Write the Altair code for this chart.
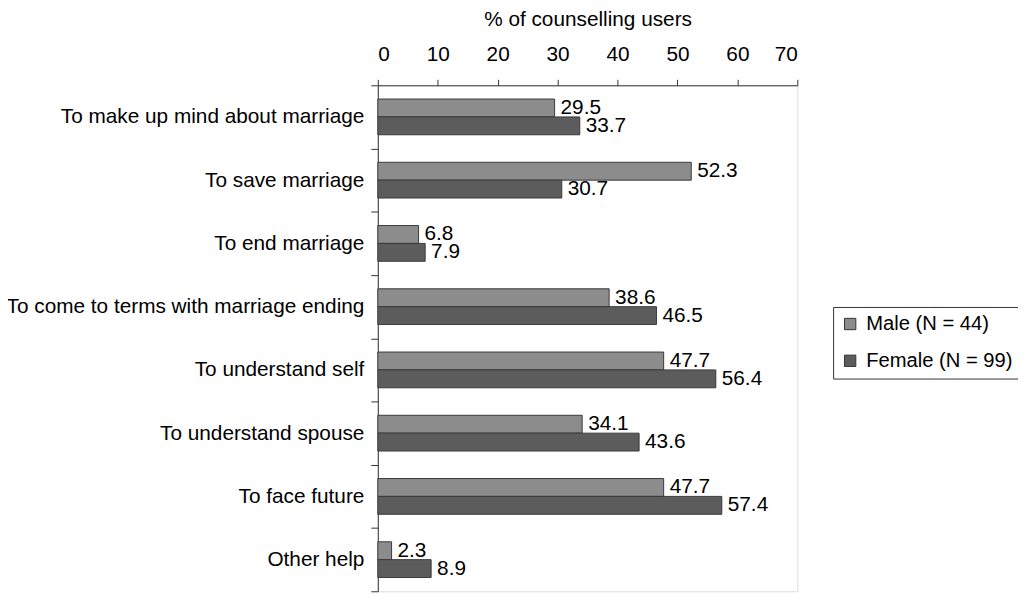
import altair as alt
import pandas as pd

categories = [
    "To make up mind about marriage",
    "To save marriage",
    "To end marriage",
    "To come to terms with marriage ending",
    "To understand self",
    "To understand spouse",
    "To face future",
    "Other help",
]
male = [29.5, 52.3, 6.8, 38.6, 47.7, 34.1, 47.7, 2.3]
female = [33.7, 30.7, 7.9, 46.5, 56.4, 43.6, 57.4, 8.9]
series = ["Male (N = 44)", "Female (N = 99)"]
colors = ["#8c8c8c", "#5c5c5c"]
x_ticks = [0, 10, 20, 30, 40, 50, 60, 70]

rows = []
for c, m, f in zip(categories, male, female):
    rows.append({"cat": c, "series": series[0], "value": m})
    rows.append({"cat": c, "series": series[1], "value": f})
df = pd.DataFrame(rows)

FONT = "Liberation Sans"
FS = 20.9

y = alt.Y(
    "cat:N",
    sort=categories,
    scale=alt.Scale(paddingInner=0, paddingOuter=0),
    axis=alt.Axis(
        title=None, tickBand="extent", tickSize=7, labelPadding=7,
        labelFontSize=FS, labelFont=FONT, labelColor="black",
        domainColor="#333333", tickColor="#333333", labelLimit=0,
    ),
)
yoff = alt.YOffset(
    "series:N", sort=series,
    scale=alt.Scale(paddingOuter=0.77, paddingInner=0),
)
x = alt.X(
    "value:Q",
    scale=alt.Scale(domain=[0, 70]),
    axis=alt.Axis(
        orient="top", values=x_ticks, title="% of counselling users",
        grid=False, tickSize=6, labelPadding=15, labelFontSize=FS,
        labelFont=FONT, labelColor="black", titleFont=FONT,
        titleFontSize=FS, titleFontWeight="normal", titleColor="black",
        titlePadding=14, domainColor="#333333", tickColor="#333333",
    ),
)

bars = alt.Chart(df).mark_bar(stroke="#3a3a3a", strokeWidth=1).encode(
    x=x,
    y=y,
    yOffset=yoff,
    color=alt.Color(
        "series:N",
        sort=series,
        scale=alt.Scale(domain=series, range=colors),
        legend=alt.Legend(
            title=None, orient="none", legendX=458, legendY=223,
            strokeColor="#333333", fillColor="white", padding=7,
            symbolType="square", symbolSize=130, symbolStrokeColor="#333333",
            symbolStrokeWidth=1, symbolOpacity=1, labelFontSize=20.3,
            labelFont=FONT, labelColor="black", rowPadding=16,
            labelOffset=6, labelLimit=0,
        ),
    ),
)

labels = alt.Chart(df).mark_text(
    align="left", baseline="middle", dx=6, fontSize=FS, font=FONT, color="black"
).encode(
    x="value:Q",
    y=alt.Y("cat:N", sort=categories),
    yOffset=alt.YOffset("series:N", sort=series),
    text=alt.Text("value:Q", format=".1f"),
)

chart = (
    alt.layer(bars, labels)
    .properties(
        width=422,
        height=509,
        autosize=alt.AutoSizeParams(type="none"),
        padding={"left": 372, "top": 76, "right": 222, "bottom": 2},
    )
    .configure_view(stroke="#aaaaaa")
    .configure(background="white")
)

chart.save("out.html", embed_options={"renderer": "svg", "actions": False})
